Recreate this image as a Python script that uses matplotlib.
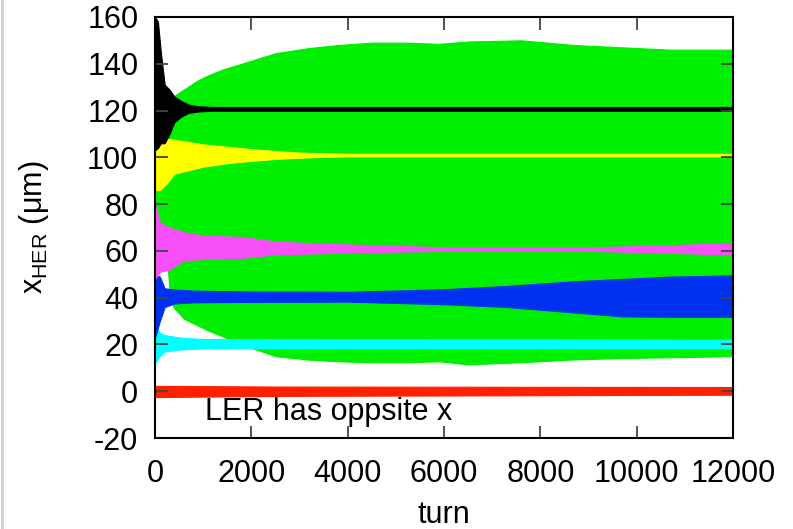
import matplotlib
matplotlib.use("Agg")
import matplotlib.pyplot as plt
from matplotlib.lines import Line2D

plt.rcParams["font.family"] = ["Liberation Sans", "DejaVu Sans"]
plt.rcParams["mathtext.fontset"] = "custom"
plt.rcParams["mathtext.rm"] = "Liberation Sans"
plt.rcParams["axes.unicode_minus"] = False

# envelopes (turn, lower, upper), one band per bunch
green_turn = [0, 250, 300, 380, 600, 900, 1100, 1400, 1800, 2500, 3200, 3800, 4500,
              5200, 5900, 6500, 7600, 8700, 9700, 10700, 12000]
green_lo = [56, 56, 44, 36, 31, 28, 26, 23.5, 20, 15, 13.5, 12.8, 12.4,
            12.4, 12.8, 11.5, 12.4, 13.6, 14.2, 14.5, 15]
green_hi = [115, 118, 124, 126, 129, 133, 135, 137.5, 140, 144.5, 146.7, 148, 149,
            149, 148.5, 149.5, 150, 148, 147, 146, 146]

red_turn = [0, 2500, 12000]
red_lo = [-2.5, -2, -1.5]
red_hi = [2.3, 2, 1.8]

cyan_turn = [0, 100, 200, 500, 1000, 12000]
cyan_lo = [12, 15, 17, 17.8, 18.3, 18.3]
cyan_hi = [28, 25, 24, 23, 22.3, 22]

blue_turn = [0, 100, 200, 400, 800, 2000, 4000, 6000, 7300, 8700, 9700, 10700, 12000]
blue_lo = [23, 30, 36, 37.5, 38, 38.2, 38.3, 37.2, 36, 33.7, 32, 31.8, 31.8]
blue_hi = [50, 49, 44, 43.5, 43, 42.6, 42.5, 43.6, 45, 47, 48, 49, 49.5]

magenta_turn = [0, 100, 300, 600, 1000, 1800, 2500, 3500, 4500, 6000, 9000, 10500, 11500, 12000]
magenta_lo = [48, 51, 52, 56, 56.5, 57, 58.5, 59, 59.5, 60, 60, 59.3, 58.7, 58.5]
magenta_hi = [80, 72, 70, 68, 66.5, 66, 64, 63, 62.5, 61.5, 61.5, 62.3, 63, 63.3]

yellow_turn = [0, 100, 250, 400, 700, 1000, 1500, 2000, 2500, 3000, 3500, 4000, 12000]
yellow_lo = [86, 86, 89, 93, 94.5, 96, 97.5, 98.5, 99.3, 99.8, 100.2, 100.4, 100.4]
yellow_hi = [110, 109, 108, 107.5, 106.5, 105.5, 104.5, 103.5, 102.7, 102, 101.7, 101.5, 101.5]

black_turn = [0, 60, 120, 200, 300, 400, 550, 700, 900, 1200, 12000]
black_lo = [103, 104, 106, 106, 110, 115, 117.5, 119, 119.6, 119.9, 119.9]
black_hi = [160, 158, 145, 131, 129, 126, 124, 122.5, 121.8, 121.5, 121.5]

bands = [
    (green_turn, green_lo, green_hi, "#00ee00"),
    (red_turn, red_lo, red_hi, "#ff2000"),
    (cyan_turn, cyan_lo, cyan_hi, "#00ffff"),
    (blue_turn, blue_lo, blue_hi, "#0030f0"),
    (magenta_turn, magenta_lo, magenta_hi, "#f850f8"),
    (yellow_turn, yellow_lo, yellow_hi, "#ffff00"),
    (black_turn, black_lo, black_hi, "#000000"),
]

xticks = [0, 2000, 4000, 6000, 8000, 10000, 12000]
yticks = [-20, 0, 20, 40, 60, 80, 100, 120, 140, 160]

fig = plt.figure(figsize=(7.93, 5.29), dpi=100)
ax = fig.add_axes([0.1955, 0.172, 0.7288, 0.796])

for turn, lo, hi, color in bands:
    ax.fill_between(turn, lo, hi, color=color, linewidth=0.8, edgecolor=color)

ax.set_xlim(0, 12000)
ax.set_ylim(-20, 160)
ax.set_xticks(xticks)
ax.set_yticks(yticks)
ax.tick_params(direction="in", length=9, width=1.3, top=True, right=True,
               labelsize=22, color="#444444")
ax.tick_params(axis="x", pad=15)
ax.tick_params(axis="y", pad=12)
for s in ax.spines.values():
    s.set_linewidth(1.5)
    s.set_zorder(5)

ax.text(1040, -9, "LER has oppsite x", fontsize=22, va="center", ha="left")
ax.set_xlabel("turn", fontsize=22, labelpad=8)
ax.set_ylabel(r"x$_{\mathrm{HER}}$ ($\mathrm{\mu}$m)", fontsize=22, labelpad=26)

fig.add_artist(Line2D([0.003, 0.003], [0, 1], color="#d0d0d0", linewidth=2))

fig.savefig("out.png", dpi=100)
